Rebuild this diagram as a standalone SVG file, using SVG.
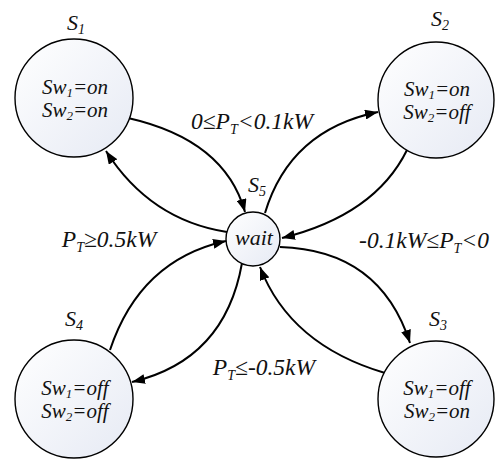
<svg xmlns="http://www.w3.org/2000/svg" width="499" height="461" viewBox="0 0 499 461">
  <defs>
    <linearGradient id="stateFill" x1="0" y1="0" x2="1" y2="1">
      <stop offset="0" stop-color="#ffffff"/>
      <stop offset="1" stop-color="#e6eaf4"/>
    </linearGradient>
    <marker id="arrow" markerUnits="userSpaceOnUse" markerWidth="14" markerHeight="10" refX="13" refY="5" orient="auto">
      <path d="M0,0 L13,5 L0,10 z" fill="#000"/>
    </marker>
  </defs>
  <style>
    .state { fill: url(#stateFill); stroke: #000; stroke-width: 1.4; }
    .edge { fill: none; stroke: #000; stroke-width: 2; marker-end: url(#arrow); }
    .t { font-family: 'Liberation Serif', 'Times New Roman', serif; font-style: italic; font-size: 22px; fill: #111; text-anchor: middle; }
    .in { font-size: 21px; }
    .cond { font-size: 23.5px; }
    .sub { font-size: 14px; }
    .in .sub { font-size: 13px; }
  </style>

  <!-- transitions -->
  <g id="connectors">
    <path class="edge" d="M128,118 Q225,140 245,212"/>
    <path class="edge" d="M227,232 Q150,220 106,151"/>
    <path class="edge" d="M265,213 Q290,130 378,112"/>
    <path class="edge" d="M407,150 Q375,215 282,238"/>
    <path class="edge" d="M280,247 Q380,250 410,343"/>
    <path class="edge" d="M385,373 Q290,345 260,267"/>
    <path class="edge" d="M110,350 Q140,260 226,241"/>
    <path class="edge" d="M242,263 Q225,360 132,382"/>
  </g>

  <!-- transition conditions -->
  <g id="labels">
    <text class="t cond" x="252" y="129">0≤P<tspan class="sub" dy="5">T</tspan><tspan dy="-5">&lt;0.1kW</tspan></text>
    <text class="t cond" x="424" y="248">-0.1kW≤P<tspan class="sub" dy="5">T</tspan><tspan dy="-5">&lt;0</tspan></text>
    <text class="t cond" x="109" y="247">P<tspan class="sub" dy="5">T</tspan><tspan dy="-5">≥0.5kW</tspan></text>
    <text class="t cond" x="264" y="375">P<tspan class="sub" dy="5">T</tspan><tspan dy="-5">≤-0.5kW</tspan></text>
  </g>

  <g id="S1">
    <text class="t" x="76" y="30">S<tspan class="sub" dy="4">1</tspan></text>
    <circle class="state" cx="74" cy="98" r="59"/>
    <text class="t in" x="75" y="94">Sw<tspan class="sub" dy="3">1</tspan><tspan dy="-3">=on</tspan></text>
    <text class="t in" x="75" y="117">Sw<tspan class="sub" dy="3">2</tspan><tspan dy="-3">=on</tspan></text>
  </g>

  <g id="S2">
    <text class="t" x="440" y="26">S<tspan class="sub" dy="4">2</tspan></text>
    <circle class="state" cx="436" cy="100" r="58"/>
    <text class="t in" x="437" y="96">Sw<tspan class="sub" dy="3">1</tspan><tspan dy="-3">=on</tspan></text>
    <text class="t in" x="437" y="119">Sw<tspan class="sub" dy="3">2</tspan><tspan dy="-3">=off</tspan></text>
  </g>

  <g id="S3">
    <text class="t" x="438" y="326">S<tspan class="sub" dy="4">3</tspan></text>
    <circle class="state" cx="436" cy="399" r="58"/>
    <text class="t in" x="437" y="395">Sw<tspan class="sub" dy="3">1</tspan><tspan dy="-3">=off</tspan></text>
    <text class="t in" x="437" y="418">Sw<tspan class="sub" dy="3">2</tspan><tspan dy="-3">=on</tspan></text>
  </g>

  <g id="S4">
    <text class="t" x="74" y="326">S<tspan class="sub" dy="4">4</tspan></text>
    <circle class="state" cx="74" cy="399" r="59"/>
    <text class="t in" x="75" y="395">Sw<tspan class="sub" dy="3">1</tspan><tspan dy="-3">=off</tspan></text>
    <text class="t in" x="75" y="418">Sw<tspan class="sub" dy="3">2</tspan><tspan dy="-3">=off</tspan></text>
  </g>

  <g id="S5">
    <text class="t" x="257" y="192">S<tspan class="sub" dy="4">5</tspan></text>
    <circle class="state" cx="253" cy="239" r="27"/>
    <text class="t" x="254" y="245">wait</text>
  </g>
</svg>
